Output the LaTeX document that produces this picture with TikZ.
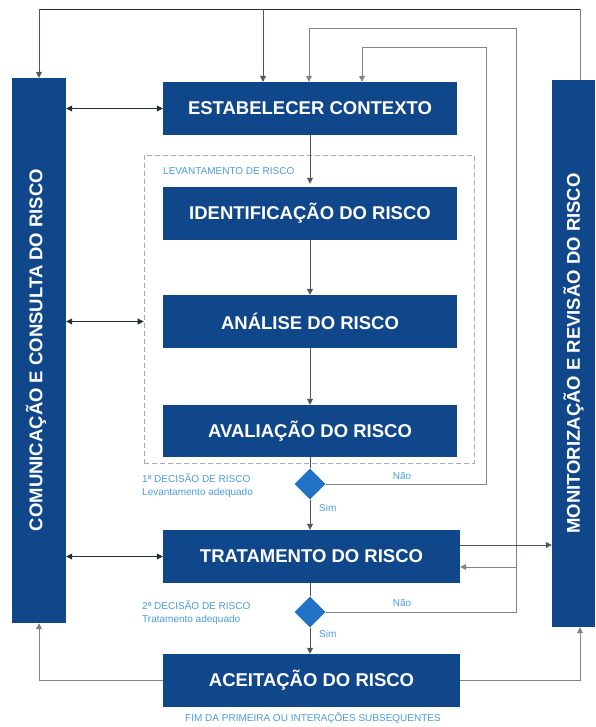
\documentclass[tikz,border=0pt]{standalone}
\usepackage{fontspec}
\setmainfont{Liberation Sans}
\usetikzlibrary{arrows.meta,shapes.geometric}
\definecolor{boxblue}{HTML}{10468A}
\definecolor{diablue}{HTML}{1F72C4}
\definecolor{lblblue}{HTML}{4B9CD8}
\definecolor{dkline}{HTML}{262C3A}
\definecolor{mdline}{HTML}{4F5563}
\definecolor{grline}{HTML}{7E848E}
\definecolor{dashgray}{HTML}{ABABAB}
\tikzset{
  mainbox/.style={rectangle, fill=boxblue, text=white, font=\bfseries\fontsize{18.5}{20}\selectfont, inner sep=0pt, minimum height=53pt},
  sidebox/.style={rectangle, fill=boxblue, text=white, font=\bfseries\fontsize{18.5}{20}\selectfont, inner sep=0pt},
  decision/.style={diamond, fill=diablue, inner sep=0pt, minimum width=31pt, minimum height=31pt},
  lbl/.style={text=lblblue, font=\fontsize{10}{13}\selectfont, inner sep=0pt},
  tip/.style={-{Triangle[length=6pt,width=6pt]}},
  dtip/.style={{Triangle[length=6pt,width=6pt]}-{Triangle[length=6pt,width=6pt]}},
  dk/.style={draw=dkline, line width=0.8pt},
  md/.style={draw=mdline, line width=0.8pt},
  gr/.style={draw=grline, line width=0.8pt},
}
\begin{document}
\begin{tikzpicture}[x=1pt,y=-1pt]
\useasboundingbox (0,0) rectangle (595,727);
% dashed group
\node[draw=dashgray, dash pattern=on 5pt off 3pt, line width=0.8pt, fill=white, minimum width=330pt, minimum height=308pt, inner sep=0pt] (grp) at (309,309) {};
% side boxes
\node[sidebox, minimum width=54pt, minimum height=545pt] (comm) at (39,350.5) {};
\node[text=white, font=\bfseries\fontsize{18.5}{20}\selectfont, rotate=90, inner sep=0pt] (commt) at (36,350) {COMUNICAÇÃO E CONSULTA DO RISCO};
\node[sidebox, minimum width=43pt, minimum height=547pt] (mon) at (573.5,353.5) {};
\node[text=white, font=\bfseries\fontsize{18.5}{20}\selectfont, rotate=90, inner sep=0pt] (mont) at (573.5,353.5) {MONITORIZAÇÃO E REVISÃO DO RISCO};
% main boxes
\node[mainbox, minimum width=294pt] (est) at (310,108.5) {ESTABELECER CONTEXTO};
\node[mainbox, minimum width=294pt] (ident) at (310,213.5) {IDENTIFICAÇÃO DO RISCO};
\node[mainbox, minimum width=294pt] (anal) at (310,321.5) {ANÁLISE DO RISCO};
\node[mainbox, minimum width=294pt, minimum height=52pt] (aval) at (310,431) {AVALIAÇÃO DO RISCO};
\node[mainbox, minimum width=297pt] (trat) at (311.5,556.5) {TRATAMENTO DO RISCO};
\node[mainbox, minimum width=297pt] (acei) at (311.5,680.5) {ACEITAÇÃO DO RISCO};
% decisions
\node[decision] (d1) at (310,484) {};
\node[decision] (d2) at (310,612) {};
% labels
\node[lbl, anchor=west] (lev) at (163,171) {LEVANTAMENTO DE RISCO};
\node[lbl, anchor=west, align=left] (dec1) at (142,485.5) {1ª DECISÃO DE RISCO\\Levantamento adequado};
\node[lbl, anchor=west, align=left] (dec2) at (142,612.5) {2ª DECISÃO DE RISCO\\Tratamento adequado};
\node[lbl] (nao1) at (402,476) {Não};
\node[lbl] (nao2) at (402,603) {Não};
\node[lbl, anchor=west] (sim1) at (319,508) {Sim};
\node[lbl, anchor=west] (sim2) at (319,634) {Sim};
\node[lbl] (fim) at (313,718) {FIM DA PRIMEIRA OU INTERAÇÕES SUBSEQUENTES};
% coordinates for loops
\coordinate (tl) at (39,9.5);
\coordinate (tm) at (263,9.5);
\coordinate (tr) at (580,9.5);
\coordinate (n1) at (486,47);
\coordinate (n1b) at (362,47);
\coordinate (n2) at (516,28);
\coordinate (n2b) at (309,28);
\coordinate (br) at (516,567);
\coordinate (t2m) at (460,545);
% top loop
\draw[gr] (tr |- mon.north) -- (tr);
\draw[dk] (tr) -- (tl);
\draw[md, tip] (tl) -- (tl |- comm.north);
\draw[md, tip] (tm) -- (tm |- est.north);
% Nao loops
\draw[gr, tip] (d1.east) -| (n1) -- (n1b) -- (n1b |- est.north);
\draw[gr, tip] (d2.east) -| (n2) -- (n2b) -- (n2b |- est.north);
\draw[gr, tip] (br) -- (br -| trat.east);
\draw[md, tip] (t2m) -- (t2m -| mon.west);
% communication arrows
\draw[dk, dtip] (comm.east |- est.west) -- (est.west);
\draw[dk, dtip] (comm.east |- anal.west) -- (anal.west -| grp.west);
\draw[dk, dtip] (comm.east |- trat.west) -- (trat.west);
% acceptance feedback
\draw[gr, tip] (acei.west) -| (comm.south);
\draw[gr, tip] (acei.east) -| (tr |- mon.south);
% main column
\draw[md, tip, shorten >=3pt] (est.south) -- (ident.north);
\draw[md, tip] (ident.south) -- (anal.north);
\draw[md, tip] (anal.south) -- (aval.north);
\draw[md] (aval.south) -- (d1.north);
\draw[md, tip] (d1.south) -- (d1.south |- trat.north);
\draw[md] (d2.north |- trat.south) -- (d2.north);
\draw[md, tip] (d2.south) -- (d2.south |- acei.north);
\end{tikzpicture}
\end{document}
